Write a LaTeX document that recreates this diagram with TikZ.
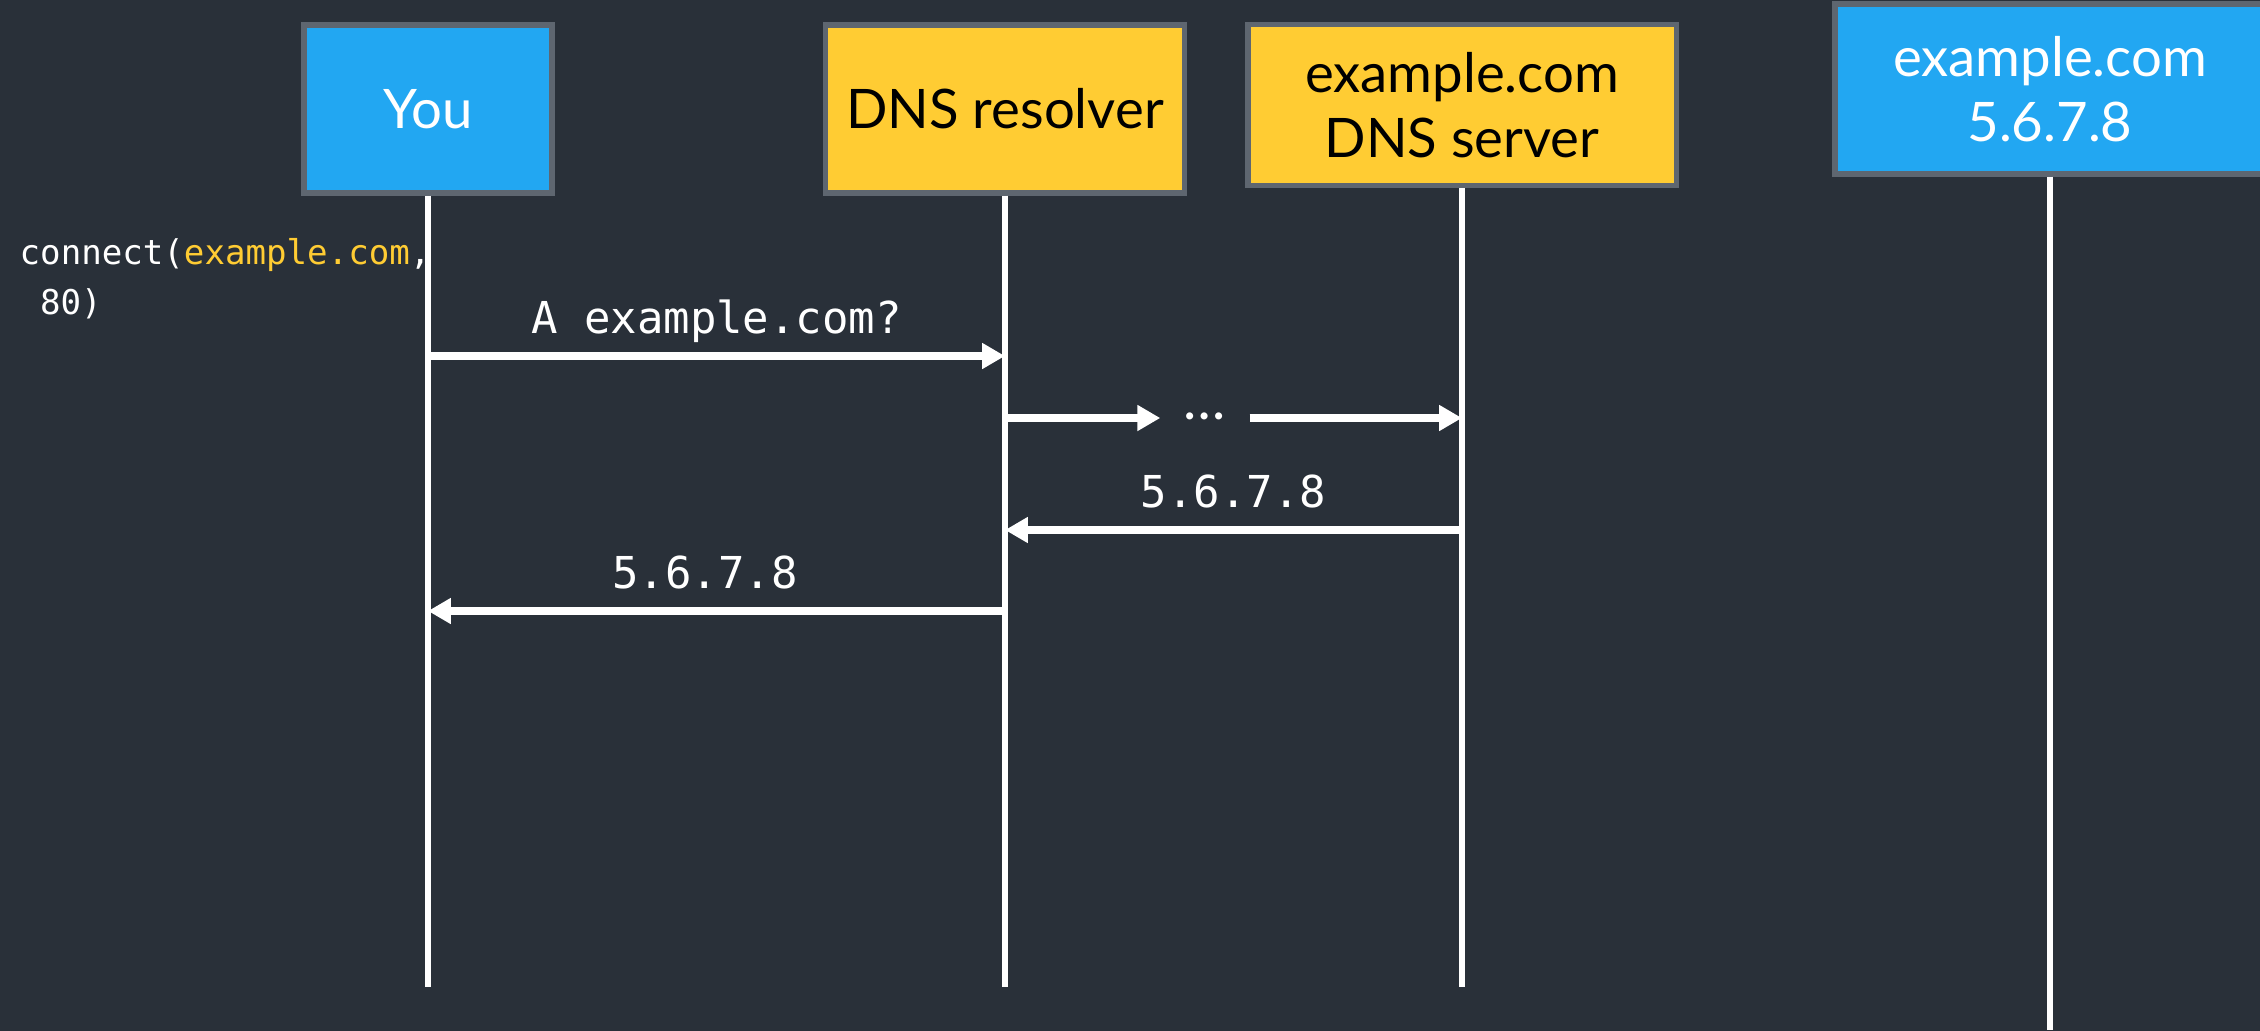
\documentclass[tikz,border=0pt]{standalone}
\usepackage{fontspec}
\usetikzlibrary{arrows.meta}
\newfontfamily\boxfont{Lato}
\newfontfamily\codefont{DejaVu Sans Mono}
\definecolor{bg}{RGB}{41,48,57}
\definecolor{youblue}{RGB}{34,167,242}
\definecolor{dnsyellow}{RGB}{255,204,51}
\definecolor{boxline}{RGB}{94,102,112}
\tikzstyle{actor}=[draw=boxline,line width=1.5pt,inner sep=0pt,align=center,font=\boxfont\fontsize{15.5}{18.3}\selectfont]
\tikzstyle{bluebox}=[actor,fill=youblue,text=white]
\tikzstyle{yellowbox}=[actor,fill=dnsyellow,text=black]
\tikzstyle{lifeline}=[draw=white,line width=1.8pt]
\tikzstyle{msg}=[draw=white,line width=2pt,-{Triangle[length=6.5pt,width=7pt]}]
\tikzstyle{msglabel}=[font=\codefont\fontsize{12.5}{15}\selectfont,text=white,above,inner sep=3pt,text depth=.25em]
\tikzstyle{dots}=[font=\boxfont\fontsize{16}{18}\selectfont,text=white,minimum width=0.88cm,inner sep=0pt,text height=.1em,text depth=0pt]
\tikzstyle{code}=[font=\codefont\fontsize{9.7}{14.2}\selectfont,text=white,align=left,inner sep=0pt]

\begin{document}
\begin{tikzpicture}[x=0.01cm,y=-0.01cm]

    \useasboundingbox (0,0) rectangle (2260,1030);
    \fill[bg] (-10,-10) rectangle (2270,1040);

    % the four parties
    \node[bluebox, minimum width=2.48cm, minimum height=1.68cm] (you) at (428,109) {You};
    \node[yellowbox, minimum width=3.59cm, minimum height=1.68cm] (res) at (1005,109) {DNS resolver};
    \node[yellowbox, minimum width=4.28cm, minimum height=1.61cm] (srv) at (1462,105) {example.com\\DNS server};
    \node[bluebox, minimum width=4.30cm, minimum height=1.70cm] (host) at (2050,89) {example.com\\5.6.7.8};

    \node[code, anchor=north west] (call) at (19,238) {connect(\textcolor{dnsyellow}{example.com},\\\hspace*{.6em}80)};

    \foreach \name/\x/\y in {you/428/987, res/1005/987, srv/1462/987, host/2050/1030}
        \coordinate (\name-end) at (\x,\y);

    \foreach \name in {you,res,srv,host}
        \draw[lifeline] (\name) -- (\name-end);

    \foreach \name in {you,res,srv}
        \foreach \m/\y in {q/356, fwd/418, ans/530, rep/611}
            \coordinate (\name-\m) at (\name |- 0,\y);

    \foreach \source/ \dest /\m/\p/\txt in {you/res/q/.5/{A example.com?}, srv/res/ans/.5/{5.6.7.8}, res/you/rep/.52/{5.6.7.8}}
        \path[msg] (\source-\m) -- node[msglabel, pos=\p] {\txt} (\dest-\m);

    % forwarding, elided
    \node[dots] (dots) at (1205,418) {…};
    \path[msg] (res-fwd) -- (dots);
    \path[msg] (dots) -- (srv-fwd);

\end{tikzpicture}
\end{document}
